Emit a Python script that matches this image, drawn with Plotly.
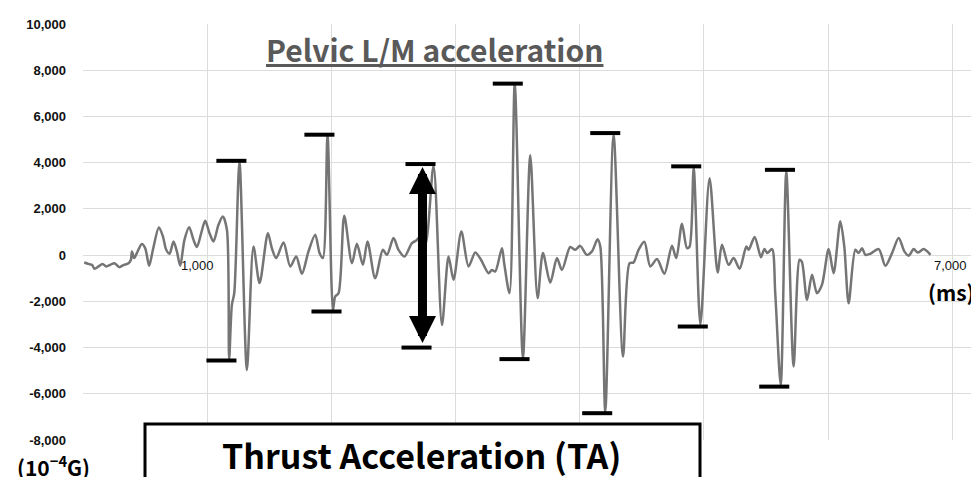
import plotly.graph_objects as go

# ---- data ----
TIME_MS = [10, 44, 72, 93, 125, 157, 187, 219, 254, 292, 326, 366, 386, 394, 412, 434, 474, 501, 533, 563,
           611, 644, 670, 697, 729, 756, 783, 817, 855, 890, 917, 952, 984, 1019, 1051, 1091, 1126, 1159, 1177, 1199,
           1218, 1260, 1320, 1373, 1422, 1489, 1521, 1556, 1615, 1669, 1717, 1763, 1816, 1870, 1905, 1932, 1969, 2013, 2031, 2058,
           2104, 2166, 2206, 2254, 2291, 2353, 2415, 2448, 2501, 2541, 2589, 2649, 2684, 2716, 2756, 2823, 2891, 2944, 2984, 3047,
           3105, 3159, 3205, 3266, 3293, 3320, 3374, 3392, 3435, 3477, 3543, 3602, 3661, 3704, 3763, 3817, 3857, 3924, 3964, 4004,
           4058, 4099, 4144, 4166, 4206, 4273, 4349, 4402, 4434, 4474, 4521, 4569, 4623, 4682, 4743, 4778, 4824, 4864, 4885, 4918,
           4972, 5046, 5111, 5146, 5199, 5240, 5288, 5342, 5361, 5409, 5460, 5487, 5511, 5549, 5575, 5619, 5664, 5723, 5771, 5789,
           5831, 5871, 5911, 5951, 6005, 6045, 6099, 6131, 6166, 6220, 6247, 6274, 6301, 6341, 6408, 6462, 6516, 6569, 6615, 6650,
           6690, 6723, 6771, 6825]
ACCEL = [-320, -380, -420, -590, -490, -380, -490, -420, -350, -520, -430, -350, -200, 160, -130, 90, 480, 300, -460, 230,
         1200, 800, 230, 60, 590, 160, -460, 660, 1210, 660, 350, 950, 1490, 950, 590, 1310, 1670, 1100, -4500, -2150,
         -1650, 4050, -4970, 370, -1210, 950, 300, -130, 550, -490, -60, -810, 160, 880, 90, -130, 5210, -2380, -1790, -1650,
         1700, -350, 490, -420, 590, -1000, 230, 10, 740, 230, -60, 520, 630, 800, 450, 3870, -3020, -60, -1070, 1020,
         -490, 110, -200, -780, -640, -710, 300, -350, -1650, 7420, -4460, 4320, -1860, 90, -1190, -130, -640, 350, 230, 400,
         10, 160, 690, 370, -6770, 5210, -4390, -350, -320, 230, 580, -490, -170, -810, 400, -130, 1360, 300, 370, 3770,
         -3000, 3330, -750, 450, -420, -130, -590, 370, 230, 780, -90, 260, 90, 260, -1650, -5620, 3620, -4820, -200, -280,
         -1940, -850, -1650, -1290, 260, -780, 1460, 370, -2080, 230, 90, 300, 10, 60, 260, -460, 90, 740, 160, -30,
         260, 110, 260, 10]

# marker bars at peaks / troughs
BAR_CENTER_MS = [1195, 1115, 1904, 1961, 2718, 2686, 3421, 3475, 4206, 4141, 4858, 4911, 5613, 5567]
BAR_VALUE = [4080, -4560, 5210, -2440, 3940, -4000, 7420, -4500, 5280, -6840, 3840, -3090, 3690, -5690]

# the thrust-acceleration arrow (uses bars 5 & 6)
TA_ARROW_MS = 2734
TA_TOP = BAR_VALUE[4]
TA_BOTTOM = BAR_VALUE[5]

Y_TICKS = [-8000, -6000, -4000, -2000, 0, 2000, 4000, 6000, 8000, 10000]
X_LABELED_TICKS = [1000, 7000]
X_GRID_STEP = 1000

TITLE = "Pelvic L/M acceleration"
BOX_TEXT = "Thrust Acceleration (TA)"
Y_UNIT = "(10<sup>−4</sup>G)"
X_UNIT = "(ms)"

# ---- style / layout (page body has an 8px margin, so figure is offset by 8px) ----
OFF = 8
W, H = 979 - OFF, 477 - OFF
ML, MR, MT, MB = 83 - OFF, 0, 24 - OFF, 477 - 440
PW, PH = W - ML - MR, H - MT - MB
BAR_HALF = 121
X_MAX = PW / 124.17 * 1000


def px_x(p):  # viewport pixel -> paper x
    return (p - OFF - ML) / PW


def px_y(p):  # viewport pixel -> paper y
    return (H - MB - (p - OFF)) / PH


fig = go.Figure()
fig.add_trace(go.Scatter(x=TIME_MS, y=ACCEL, mode="lines",
                         line=dict(color="#757575", width=2.5, shape="spline", smoothing=0.8),
                         hoverinfo="skip", showlegend=False))

bx, by = [], []
for c, v in zip(BAR_CENTER_MS, BAR_VALUE):
    bx += [c - BAR_HALF, c + BAR_HALF, None]
    by += [v, v, None]
fig.add_trace(go.Scatter(x=bx, y=by, mode="lines", line=dict(color="black", width=4),
                         hoverinfo="skip", showlegend=False))

annotations = []
annotations.append(dict(x=TA_ARROW_MS, y=TA_TOP, ax=TA_ARROW_MS, ay=TA_BOTTOM,
                        xref="x", yref="y", axref="x", ayref="y", text="",
                        showarrow=True, arrowhead=2, startarrowhead=2, arrowside="end+start",
                        arrowwidth=9, arrowsize=0.6, startarrowsize=0.6, arrowcolor="black",
                        standoff=3, startstandoff=3))
for xv, shift in zip(X_LABELED_TICKS, [-10, -2]):
    annotations.append(dict(x=xv, y=0, xref="x", yref="y", text=f"{xv:,}", showarrow=False,
                            xanchor="center", yanchor="middle", yshift=-10, xshift=shift,
                            font=dict(family="Liberation Sans, Arial", size=13, color="#111")))
annotations.append(dict(x=px_x(434), y=px_y(49), xref="paper", yref="paper",
                        text=f"<b><u>{TITLE}</u></b>", showarrow=False, xanchor="center", yanchor="middle",
                        font=dict(family="Noto Sans CJK JP", size=30, color="#595959")))
annotations.append(dict(x=px_x(421), y=px_y(454), xref="paper", yref="paper",
                        text=f"<b>{BOX_TEXT}</b>", showarrow=False, xanchor="center", yanchor="middle",
                        font=dict(family="Noto Sans CJK JP", size=34, color="black")))
annotations.append(dict(x=px_x(53), y=px_y(466), xref="paper", yref="paper",
                        text=f"<b>{Y_UNIT}</b>", showarrow=False, xanchor="center", yanchor="middle",
                        font=dict(family="Noto Sans CJK JP", size=21, color="black")))
annotations.append(dict(x=px_x(951), y=px_y(292), xref="paper", yref="paper",
                        text=f"<b>{X_UNIT}</b>", showarrow=False, xanchor="center", yanchor="middle",
                        font=dict(family="Noto Sans CJK JP", size=21, color="black")))

shapes = [dict(type="rect", xref="paper", yref="paper",
               x0=px_x(145), x1=px_x(700), y0=px_y(424), y1=-0.3,
               line=dict(color="black", width=3), fillcolor="white", layer="above")]

fig.update_layout(
    width=W, height=H, margin=dict(l=ML, r=MR, t=MT, b=MB),
    paper_bgcolor="white", plot_bgcolor="white",
    annotations=annotations, shapes=shapes,
    xaxis=dict(range=[0, X_MAX], dtick=X_GRID_STEP, tick0=0, showticklabels=False,
               showgrid=True, gridcolor="#dcdcdc", gridwidth=1, zeroline=False, showline=False),
    yaxis=dict(range=[Y_TICKS[0], Y_TICKS[-1]], tickvals=Y_TICKS, ticktext=[f"{v:,}" for v in Y_TICKS],
               showgrid=True, gridcolor="#dcdcdc", gridwidth=1, zeroline=False, showline=False,
               ticklabelstandoff=16,
               tickfont=dict(family="Liberation Sans, Arial", size=13, color="#111", weight="bold")),
)

fig.write_html("out.html")
